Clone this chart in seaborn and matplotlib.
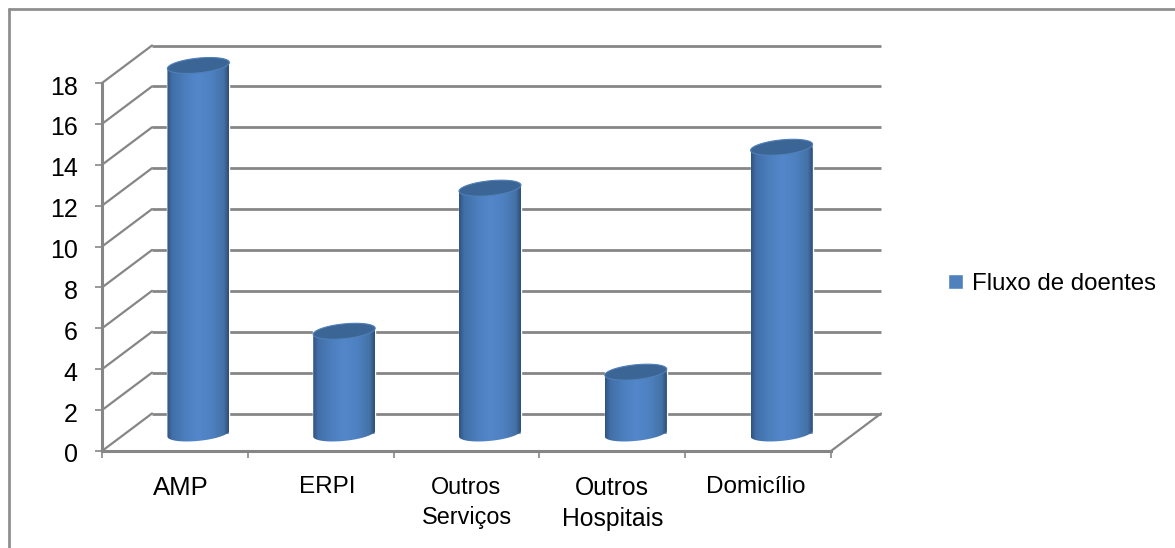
import numpy as np
import pandas as pd
import seaborn as sns
import matplotlib
matplotlib.use("Agg")
import matplotlib.pyplot as plt
from matplotlib.colors import LinearSegmentedColormap
from matplotlib.lines import Line2D
from matplotlib.path import Path
from matplotlib.patches import PathPatch
from matplotlib.transforms import Affine2D

# Chart data
categories = ["AMP", "ERPI", "Outros\nServiços", "Outros\nHospitais", "Domicílio"]
patient_flow = [18, 5, 12, 3, 14]
y_ticks = list(range(0, 20, 2))
series_name = "Fluxo de doentes"

sns.set_theme(style="white")
plt.rcParams["font.family"] = ["Liberation Sans", "DejaVu Sans"]

GRID = "#868686"
BLUE = "#4f81bd"
W, H = 1175, 548
DEPTH_X, DEPTH_Y = 50, 37.5     # back wall offset, pixels
BAR_DX, BAR_DY = 23.5, 17.5     # cylinder offset into the box, pixels
CAP_B, CAP_TILT = 7.4, 3.0      # cap ellipse half height and tilt, pixels
LABEL_STYLE = [(18.5, 6), (17.5, 7), (16.8, 0), (17.8, 0), (17.5, -2)]  # size, x nudge in pixels

fig = plt.figure(figsize=(W / 100, H / 100), dpi=100, facecolor="white")
ax = fig.add_axes([102 / W, (H - 451) / H, 729 / W, 368 / H])

frame = pd.DataFrame({"destino": categories, "n": patient_flow})
sns.barplot(data=frame, x="destino", y="n", color=BLUE, saturation=1, width=0.425,
            label=series_name, ax=ax, zorder=3)
ax.set_xlim(-0.5, len(categories) - 0.5)
ax.set_ylim(0, 18)
xlim, ylim = ax.get_xlim(), ax.get_ylim()

to_display = ax.transData
wall = to_display + Affine2D().translate(DEPTH_X, DEPTH_Y)
inside = to_display + Affine2D().translate(BAR_DX, BAR_DY)

# Back wall gridlines, side wall diagonals and floor edge
for v in y_ticks:
    ax.plot(xlim, [v, v], transform=wall, color=GRID, lw=2.0, clip_on=False, zorder=1,
            solid_capstyle="butt")
    p0 = to_display.transform((xlim[0], v))
    ax.add_line(Line2D([p0[0], p0[0] + DEPTH_X], [p0[1], p0[1] + DEPTH_Y],
                       transform=None, color=GRID, lw=1.6, clip_on=False, zorder=1))
p0 = to_display.transform((xlim[1], 0))
ax.add_line(Line2D([p0[0], p0[0] + DEPTH_X], [p0[1], p0[1] + DEPTH_Y],
                   transform=None, color=GRID, lw=1.6, clip_on=False, zorder=1))

# Cylinders: each bar gets a shaded body and an elliptical cap
shade = LinearSegmentedColormap.from_list(
    "cyl", [(0, "#30547f"), (0.08, "#426fa8"), (0.3, "#4c7fbe"), (0.5, "#5387cb"),
            (0.72, "#4e81c1"), (0.92, "#4472a6"), (1, "#2e4e76")])
ppy = 368 / 18
t_low = np.linspace(np.pi, 2 * np.pi, 60)
t_all = np.linspace(0, 2 * np.pi, 120)

for bar in ax.patches:
    bar.set_transform(inside)
    bar.set_clip_on(False)
    x0, hw, v = bar.get_x(), bar.get_width() / 2, bar.get_height()
    cx = x0 + hw

    lower_x = cx + hw * np.cos(t_low)
    lower_y = (CAP_B * np.sin(t_low) + CAP_TILT * np.cos(t_low)) / ppy
    body_x = np.r_[lower_x, cx + hw, cx - hw, lower_x[0]]
    body_y = np.r_[lower_y, v + CAP_TILT / ppy, v - CAP_TILT / ppy, lower_y[0]]
    body = Path(np.c_[body_x, body_y])

    img = ax.imshow(np.linspace(0, 1, 128)[None, :], cmap=shade, aspect="auto",
                    extent=(cx - hw, cx + hw, -1, v + 1), transform=inside, zorder=4,
                    interpolation="bilinear")
    img.set_clip_path(body, inside)
    img.set_clip_box(fig.bbox)

    cap_x = cx + hw * np.cos(t_all)
    cap_y = v + (CAP_B * np.sin(t_all) + CAP_TILT * np.cos(t_all)) / ppy
    ax.add_patch(PathPatch(Path(np.c_[cap_x, cap_y]), transform=inside, facecolor="#3b6595",
                           edgecolor="#5080b8", lw=0.8, clip_on=False, zorder=5))

ax.set_xlim(xlim)
ax.set_ylim(ylim)
ax.set_aspect("auto")

# Axes, ticks and labels
sns.despine(ax=ax, top=True, right=True)
for side in ("left", "bottom"):
    ax.spines[side].set_color(GRID)
    ax.spines[side].set_linewidth(2.2)
    ax.spines[side].set_zorder(2)
ax.set_xlabel("")
ax.set_ylabel("")
ax.set_yticks(y_ticks)
ax.tick_params(axis="y", left=True, length=5, width=1.2, color=GRID, labelsize=18,
               pad=12.5, labelcolor="black")
for lab in ax.get_yticklabels():
    lab.set_transform(lab.get_transform() + Affine2D().translate(0, -2))
ax.set_xticks(range(len(categories)))
ax.set_xticklabels(categories, linespacing=1.38, color="black")
ax.set_xticks(np.arange(len(categories) + 1) - 0.5, minor=True)
ax.tick_params(axis="x", which="major", bottom=False, pad=12)
ax.tick_params(axis="x", which="minor", bottom=True, length=5, width=1.2, color=GRID)
for lab, (size, nudge) in zip(ax.get_xticklabels(), LABEL_STYLE):
    lab.set_fontsize(size)
    lab.set_transform(lab.get_transform() + Affine2D().translate(nudge, 0))

leg = ax.legend(loc="center left", bbox_to_anchor=(948 / W, (H - 284) / H),
                bbox_transform=fig.transFigure, frameon=False, fontsize=17.3,
                handlelength=0.62, handleheight=0.62, handletextpad=0.36,
                borderpad=0, borderaxespad=0, labelcolor="black")

# Outer chart border, open on the right and at the bottom
fig.add_artist(Line2D([8 / W, 1], [1 - 9 / H, 1 - 9 / H], color="#8f8f8f", lw=2.0,
                      solid_capstyle="butt"))
fig.add_artist(Line2D([9 / W, 9 / W], [1 - 8 / H, 0], color="#8f8f8f", lw=2.0,
                      solid_capstyle="butt"))

fig.savefig("out.png", dpi=100, facecolor="white")
